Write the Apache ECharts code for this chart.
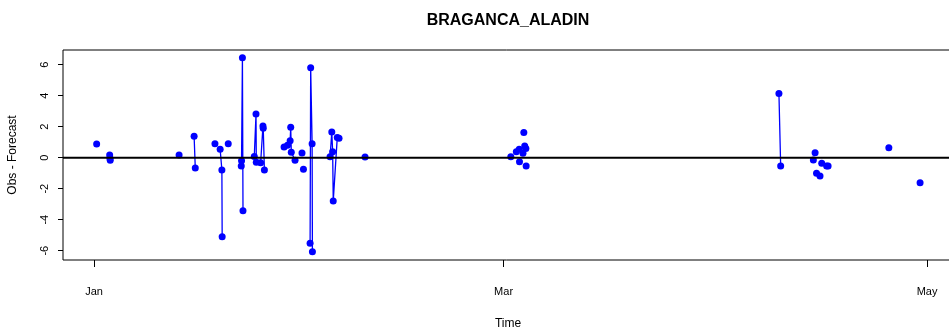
<!DOCTYPE html>
<html>
<head>
<meta charset="utf-8">
<script src="https://cdn.jsdelivr.net/npm/echarts@6/dist/echarts.min.js"></script>
<style>html,body{margin:0;padding:0;background:#fff}#c{width:949px;height:335px}</style>
</head>
<body>
<div id="c"></div>
<script>
// Observation times (null value = break in the line)
const times = [
  '2013-01-01 09:00', null,
  '2013-01-03 06:00', '2013-01-03 07:00', '2013-01-03 08:00', null,
  '2013-01-13 06:00', null,
  '2013-01-15 10:00', '2013-01-15 14:00', null,
  '2013-01-18 10:00', null,
  '2013-01-19 04:00', '2013-01-19 10:00', '2013-01-19 11:00', null,
  '2013-01-20 08:00', null,
  '2013-01-22 05:00', '2013-01-22 06:00', '2013-01-22 09:00', '2013-01-22 11:00', null,
  '2013-01-24 02:00', '2013-01-24 08:00', '2013-01-24 09:00', null,
  '2013-01-25 00:00', '2013-01-25 08:00', '2013-01-25 09:00', '2013-01-25 13:00', null,
  '2013-01-28 09:00', '2013-01-28 21:00', '2013-01-29 06:00', '2013-01-29 08:00', '2013-01-29 10:00', '2013-01-29 23:00', null,
  '2013-01-30 23:00', null,
  '2013-01-31 04:00', null,
  '2013-02-01 03:00', '2013-02-01 05:00', '2013-02-01 10:00', '2013-02-01 11:00', null,
  '2013-02-04 00:00', '2013-02-04 06:00', '2013-02-04 09:00', '2013-02-04 11:00', '2013-02-05 01:00', '2013-02-05 07:00', null,
  '2013-02-09 01:00', null,
  '2013-03-02 01:00', null,
  '2013-03-02 20:00', null,
  '2013-03-03 06:00', null,
  '2013-03-03 07:00', null,
  '2013-03-03 19:00', null,
  '2013-03-03 22:00', null,
  '2013-03-04 01:00', null,
  '2013-03-04 05:00', null,
  '2013-03-04 06:00', null,
  '2013-04-09 16:00', '2013-04-09 22:00', null,
  '2013-04-14 15:00', null,
  '2013-04-14 21:00', null,
  '2013-04-15 02:00', null,
  '2013-04-15 14:00', null,
  '2013-04-15 20:00', null,
  '2013-04-16 13:00', null,
  '2013-04-16 18:00', null,
  '2013-04-25 12:00', null,
  '2013-04-30 00:00'
];
// Obs - Forecast values (null = break)
const values = [
  0.88, null,
  0.17, -0.03, -0.17, null,
  0.17, null,
  1.38, -0.66, null,
  0.90, null,
  0.54, -0.79, -5.10, null,
  0.90, null,
  -0.54, -0.19, 6.45, -3.42, null,
  0.08, 2.82, -0.30, null,
  -0.32, 2.05, 1.90, -0.79, null,
  0.69, 0.80, 1.10, 1.96, 0.35, -0.17, null,
  0.30, null,
  -0.75, null,
  -5.52, 5.81, 0.90, -6.06, null,
  0.06, 1.66, 0.39, -2.80, 1.31, 1.25, null,
  0.05, null,
  0.07, null,
  0.39, null,
  0.54, null,
  -0.26, null,
  0.28, null,
  1.62, null,
  0.75, null,
  0.60, null,
  -0.54, null,
  4.15, -0.54, null,
  -0.15, null,
  0.32, null,
  -1.00, null,
  -1.18, null,
  -0.36, null,
  -0.54, null,
  -0.54, null,
  0.65, null,
  -1.61
];
const xTickDates = ['2013-01-01 00:00', '2013-03-01 00:00', '2013-05-01 00:00'];
const xTickLabels = ['Jan', 'Mar', 'May'];
const yTicks = [-6, -4, -2, 0, 2, 4, 6];
const xRange = ['2012-12-27 12:40', '2013-05-04 17:50'];
const yRange = [-6.6, 6.95];

// days since 2013-01-01 00:00 (UTC arithmetic, no DST)
function day(s) {
  const m = s.match(/(\d+)-(\d+)-(\d+) (\d+):(\d+)/);
  return (Date.UTC(+m[1], +m[2] - 1, +m[3], +m[4], +m[5]) - Date.UTC(2013, 0, 1)) / 86400000;
}
const data = [];
let lastT = 0;
for (let i = 0; i < values.length; i++) {
  if (values[i] === null) {
    data.push([lastT, '-']);
  } else {
    lastT = day(times[i]);
    data.push([lastT, values[i]]);
  }
}
const xTickVals = xTickDates.map(day);
const xMin = day(xRange[0]), xMax = day(xRange[1]);
const FONT = '"Liberation Sans Narrow", "Liberation Sans", Arial, sans-serif';

const chart = echarts.init(document.getElementById('c'), null, {renderer: 'canvas'});
chart.setOption({
  animation: false,
  backgroundColor: '#ffffff',
  title: {
    text: 'BRAGANCA_ALADIN',
    left: 503, top: 8, textAlign: 'center',
    textStyle: {fontFamily: FONT, fontWeight: 'bold', fontSize: 16, color: '#000'}
  },
  grid: {left: 63, right: -4, top: 50, bottom: 75, show: true, borderColor: '#000', borderWidth: 1,
         backgroundColor: 'transparent', outerBoundsMode: 'none', containLabel: false},
  xAxis: {
    type: 'value', min: xMin, max: xMax,
    name: 'Time', nameLocation: 'middle', nameGap: 58,
    nameTextStyle: {fontFamily: FONT, fontSize: 12, color: '#000'},
    axisLine: {show: false, onZero: false},
    splitLine: {show: false},
    axisTick: {show: true, inside: false, length: 7, customValues: xTickVals, lineStyle: {color: '#000', width: 1}},
    axisLabel: {
      customValues: xTickVals, margin: 26, fontFamily: FONT, fontSize: 11, color: '#000',
      formatter: function (v) {
        for (let k = 0; k < xTickVals.length; k++) {
          if (Math.abs(xTickVals[k] - v) < 1e-6) return xTickLabels[k];
        }
        return '';
      }
    }
  },
  yAxis: {
    type: 'value', min: yRange[0], max: yRange[1],
    name: 'Obs - Forecast', nameLocation: 'middle', nameGap: 44, nameRotate: 90,
    nameTextStyle: {fontFamily: FONT, fontSize: 12, color: '#000'},
    axisLine: {show: false, onZero: false},
    splitLine: {show: false},
    axisTick: {show: true, length: 5, customValues: yTicks, lineStyle: {color: '#000', width: 1}},
    axisLabel: {customValues: yTicks, rotate: 90, margin: 13, fontFamily: FONT, fontSize: 11, color: '#000'}
  },
  series: [
    {
      type: 'line', data: data, connectNulls: false,
      symbol: 'circle', symbolSize: 7, showSymbol: true, showAllSymbol: true,
      itemStyle: {color: '#0000FF'},
      lineStyle: {color: '#0000FF', width: 1.3},
      z: 2
    },
    {
      type: 'line', data: [[xMin, 0], [xMax, 0]], symbol: 'none', silent: true,
      lineStyle: {color: '#000', width: 2}, z: 5
    }
  ]
});
</script>
</body>
</html>
